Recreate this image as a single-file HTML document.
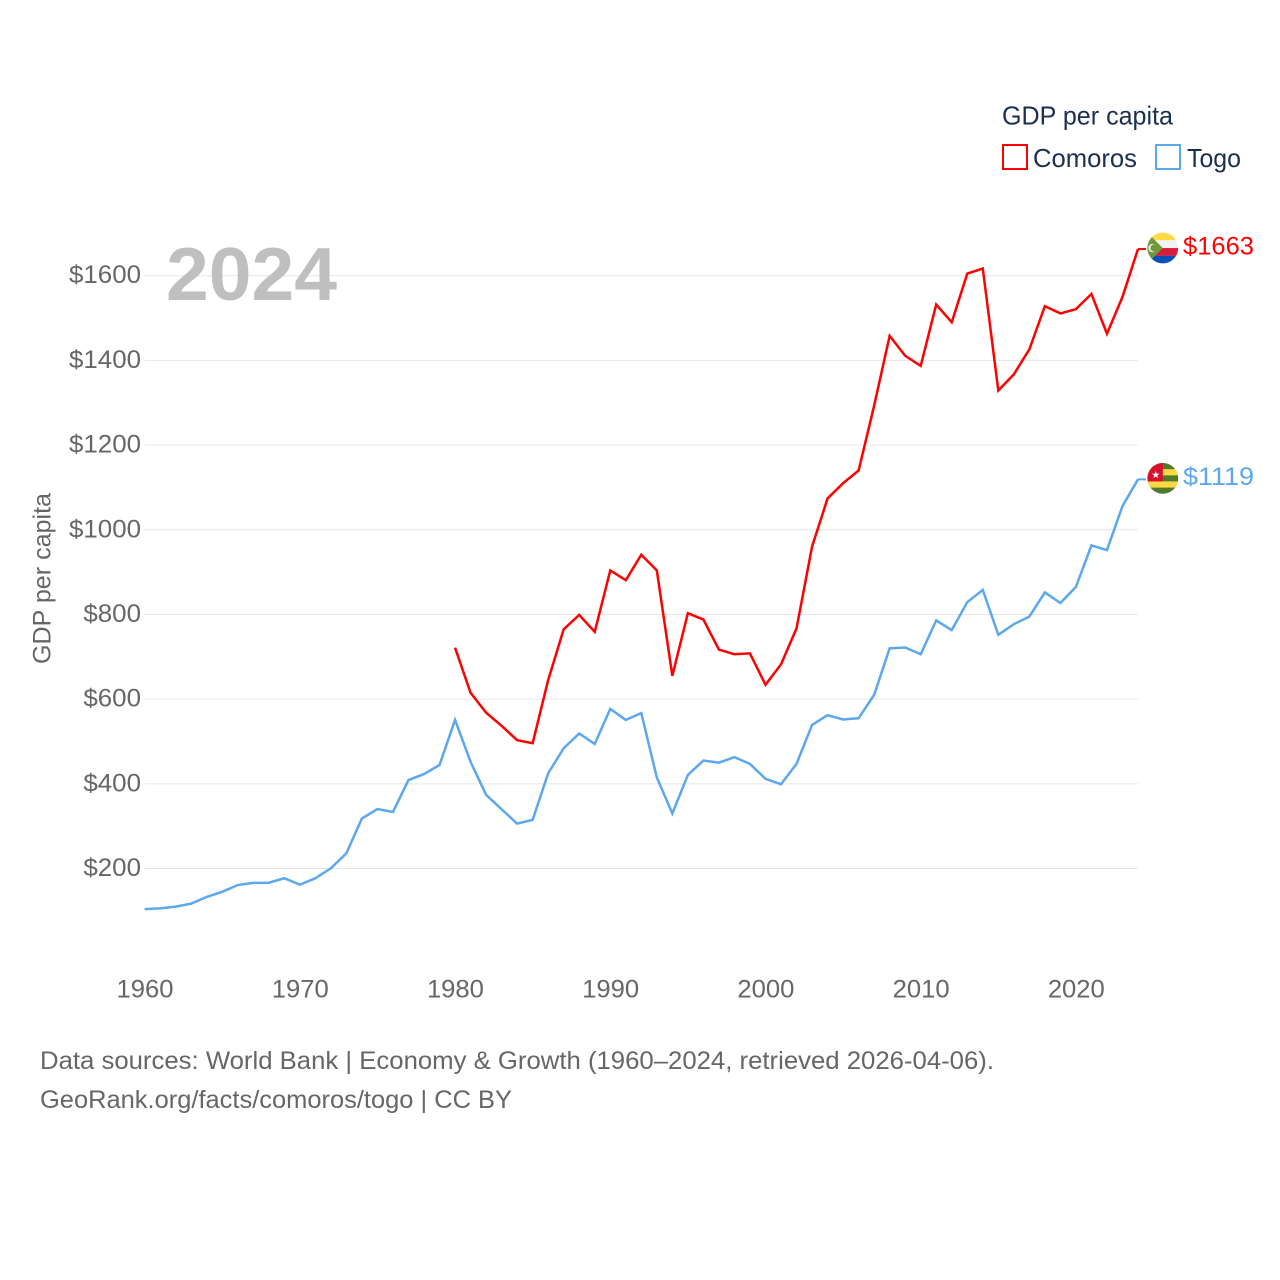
<!DOCTYPE html>
<html lang="en">
<head>
<meta charset="utf-8">
<title>GDP per capita: Comoros and Togo</title>
<style>
html,body{margin:0;padding:0;background:#fff;}
svg{display:block;}
text{font-family:"Liberation Sans","DejaVu Sans",sans-serif;}
</style>
</head>
<body>
<svg id="chart" xmlns="http://www.w3.org/2000/svg" width="1280" height="1280" viewBox="0 0 1280 1280">
  <defs>
    <clipPath id="flag-clip"><circle cx="0" cy="0" r="15.4"></circle></clipPath>
  </defs>
  <rect width="1280" height="1280" fill="#ffffff"></rect>
  <g id="grid"></g>
  <g id="yticks"></g>
  <g id="xticks"></g>
  <g id="series"></g>

  <text x="166" y="300" font-size="75" font-weight="700" fill="#bfbfbf" textLength="171" lengthAdjust="spacingAndGlyphs">2024</text>
  <text transform="translate(50.5,664) rotate(-90)" font-size="25" fill="#666666" textLength="171" lengthAdjust="spacingAndGlyphs">GDP per capita</text>

  <g>
    <text x="1002" y="124.5" font-size="26" fill="#1b3051" textLength="171" lengthAdjust="spacingAndGlyphs">GDP per capita</text>
    <rect x="1003" y="145" width="24" height="24" fill="none" stroke="#ff0000" stroke-width="2"></rect>
    <text x="1033" y="167" font-size="26" fill="#1b3051" textLength="104" lengthAdjust="spacingAndGlyphs">Comoros</text>
    <rect x="1156" y="145" width="24" height="24" fill="none" stroke="#5ca7ee" stroke-width="2"></rect>
    <text x="1187" y="167" font-size="26" fill="#1b3051" textLength="54" lengthAdjust="spacingAndGlyphs">Togo</text>
  </g>

  <g id="flag-comoros">
    <g clip-path="url(#flag-clip)">
      <rect x="-16" y="-16" width="32" height="8.3" fill="#ffd944"></rect>
      <rect x="-16" y="-7.8" width="32" height="7.9" fill="#f2f2f2"></rect>
      <rect x="-16" y="0" width="32" height="7.8" fill="#dc1c3c"></rect>
      <rect x="-16" y="7.7" width="32" height="8.3" fill="#0a4fb5"></rect>
      <polygon points="-16,-16 -16,16 0,0" fill="#6f9a3c"></polygon>
      <circle cx="-10.2" cy="0" r="4.2" fill="#f2f2f2"></circle>
      <circle cx="-8.8" cy="0" r="3.6" fill="#6f9a3c"></circle>
    </g>
  </g>
  <g id="flag-togo">
    <g clip-path="url(#flag-clip)">
      <rect x="-16" y="-16" width="32" height="32" fill="#4f7a2c"></rect>
      <rect x="-16" y="-9.2" width="32" height="6.2" fill="#ffd944"></rect>
      <rect x="-16" y="3" width="32" height="6.2" fill="#ffd944"></rect>
      <rect x="-16" y="-16" width="16" height="19" fill="#d80f2f"></rect>
      <polygon points="-7,-7.5 -6.06,-4.79 -3.2,-4.74 -5.48,-3.01 -4.65,-0.26 -7,-1.9 -9.35,-0.26 -8.52,-3.01 -10.8,-4.74 -7.94,-4.79" fill="#f5f5f5"></polygon>
    </g>
  </g>
  <text id="value-comoros" x="1183" font-size="25" fill="#ff0000" textLength="71" lengthAdjust="spacingAndGlyphs"></text>
  <text id="value-togo" x="1183" font-size="25" fill="#5ca7ee" textLength="71" lengthAdjust="spacingAndGlyphs"></text>

  <g>
    <text x="40" y="1069" font-size="25" fill="#666666" textLength="954" lengthAdjust="spacingAndGlyphs">Data sources: World Bank | Economy &amp; Growth (1960–2024, retrieved 2026-04-06).</text>
    <text x="40" y="1108" font-size="25" fill="#666666" textLength="472" lengthAdjust="spacingAndGlyphs">GeoRank.org/facts/comoros/togo | CC BY</text>
  </g>
</svg>
<script>
const yTickValues = [200, 400, 600, 800, 1000, 1200, 1400, 1600];
const xTickValues = [1960, 1970, 1980, 1990, 2000, 2010, 2020];
const startYear = 1960;
const comorosStartYear = 1980;
const togoValues = [
  104, 106, 110, 117, 133, 145, 161, 166, 166.5, 177,
  162, 177, 200.5, 236, 318, 340.5, 333.5, 409, 423, 444.5,
  551, 452, 374, 340, 306, 315, 425, 484, 519, 494,
  577, 551, 567, 415, 330, 421, 455, 450, 463, 447,
  412, 399, 447, 539, 562, 552, 555, 610, 720, 722,
  706, 786, 763, 829, 858, 752, 777, 795, 852, 827,
  865, 963, 952, 1056, 1119
];
const comorosValues = [
  721.5, 615, 568, 537, 503, 496, 645, 765, 799, 759,
  904, 881, 941, 904, 655, 803, 788, 717, 706, 708,
  634, 682, 767, 960, 1074, 1110, 1140, 1293, 1458, 1411,
  1387, 1532, 1490, 1605, 1617, 1329, 1367, 1426, 1528, 1511,
  1521, 1557, 1463, 1550, 1663
];

const SVG_NS = 'http://www.w3.org/2000/svg';
const xScale = function (year) { return 144.6 + (year - 1960) * (1138 - 144.6) / 64; };
const yScale = function (value) { return 953.2 - value * 0.42343; };

const gridGroup = document.getElementById('grid');
const yTickGroup = document.getElementById('yticks');
const xTickGroup = document.getElementById('xticks');
const seriesGroup = document.getElementById('series');

yTickValues.forEach(function (value) {
  const gridLine = document.createElementNS(SVG_NS, 'line');
  
  
  gridLine.setAttribute('x1', xScale(1960));
  gridLine.setAttribute('x2', xScale(2024));
  gridLine.setAttribute('y1', yScale(value));
  gridLine.setAttribute('y2', yScale(value));
  gridLine.setAttribute('stroke', '#e6e6e6');
  gridLine.setAttribute('stroke-width', '1');
  gridGroup.appendChild(gridLine);

  const label = document.createElementNS(SVG_NS, 'text');
  const labelText = '$' + value;
  
  
  label.setAttribute('x', 141);
  label.setAttribute('y', yScale(value) + 7.5);
  label.setAttribute('text-anchor', 'end');
  label.setAttribute('font-size', '25');
  label.setAttribute('fill', '#666666');
  label.setAttribute('textLength', labelText.length * 14.4);
  label.setAttribute('lengthAdjust', 'spacingAndGlyphs');
  label.textContent = labelText;
  yTickGroup.appendChild(label);
});

xTickValues.forEach(function (year) {
  const label = document.createElementNS(SVG_NS, 'text');
  
  
  label.setAttribute('x', xScale(year) + 0.4);
  label.setAttribute('y', 997.5);
  label.setAttribute('text-anchor', 'middle');
  label.setAttribute('font-size', '25');
  label.setAttribute('fill', '#666666');
  label.setAttribute('textLength', '57');
  label.setAttribute('lengthAdjust', 'spacingAndGlyphs');
  label.textContent = String(year);
  xTickGroup.appendChild(label);
});

function linePath(values, firstYear) {
  return values.map(function (value, i) {
    return (i === 0 ? 'M' : 'L') + xScale(firstYear + i).toFixed(2) + ' ' + yScale(value).toFixed(2);
  }).join(' ');
}

const togoLine = document.createElementNS(SVG_NS, 'path');


togoLine.setAttribute('d', linePath(togoValues, startYear));
togoLine.setAttribute('fill', 'none');
togoLine.setAttribute('stroke', '#5ca7ee');
togoLine.setAttribute('stroke-width', '2.5');
togoLine.setAttribute('stroke-linejoin', 'miter');
seriesGroup.appendChild(togoLine);

const comorosLine = document.createElementNS(SVG_NS, 'path');


comorosLine.setAttribute('d', linePath(comorosValues, comorosStartYear));
comorosLine.setAttribute('fill', 'none');
comorosLine.setAttribute('stroke', '#ff0000');
comorosLine.setAttribute('stroke-width', '2.5');
comorosLine.setAttribute('stroke-linejoin', 'miter');
seriesGroup.appendChild(comorosLine);

const lastTogo = togoValues[togoValues.length - 1];
const lastComoros = comorosValues[comorosValues.length - 1];

const togoConnector = document.createElementNS(SVG_NS, 'line');


togoConnector.setAttribute('x1', xScale(2024));
togoConnector.setAttribute('x2', xScale(2024) + 8);
togoConnector.setAttribute('y1', yScale(lastTogo));
togoConnector.setAttribute('y2', yScale(lastTogo));
togoConnector.setAttribute('stroke', '#5ca7ee');
togoConnector.setAttribute('stroke-width', '2');
seriesGroup.appendChild(togoConnector);

const comorosConnector = document.createElementNS(SVG_NS, 'line');


comorosConnector.setAttribute('x1', xScale(2024));
comorosConnector.setAttribute('x2', xScale(2024) + 8);
comorosConnector.setAttribute('y1', yScale(lastComoros));
comorosConnector.setAttribute('y2', yScale(lastComoros));
comorosConnector.setAttribute('stroke', '#ff0000');
comorosConnector.setAttribute('stroke-width', '2');
seriesGroup.appendChild(comorosConnector);

document.getElementById('flag-comoros').setAttribute('transform', 'translate(' + (xScale(2024) + 24.8) + ',' + (yScale(lastComoros) - 1) + ')');
document.getElementById('flag-togo').setAttribute('transform', 'translate(' + (xScale(2024) + 24.8) + ',' + (yScale(lastTogo) - 1) + ')');

const comorosValueLabel = document.getElementById('value-comoros');
comorosValueLabel.setAttribute('y', yScale(lastComoros) + 5.5);
comorosValueLabel.textContent = '$' + lastComoros;

const togoValueLabel = document.getElementById('value-togo');
togoValueLabel.setAttribute('y', yScale(lastTogo) + 5.5);
togoValueLabel.textContent = '$' + lastTogo;
</script>
</body>
</html>
